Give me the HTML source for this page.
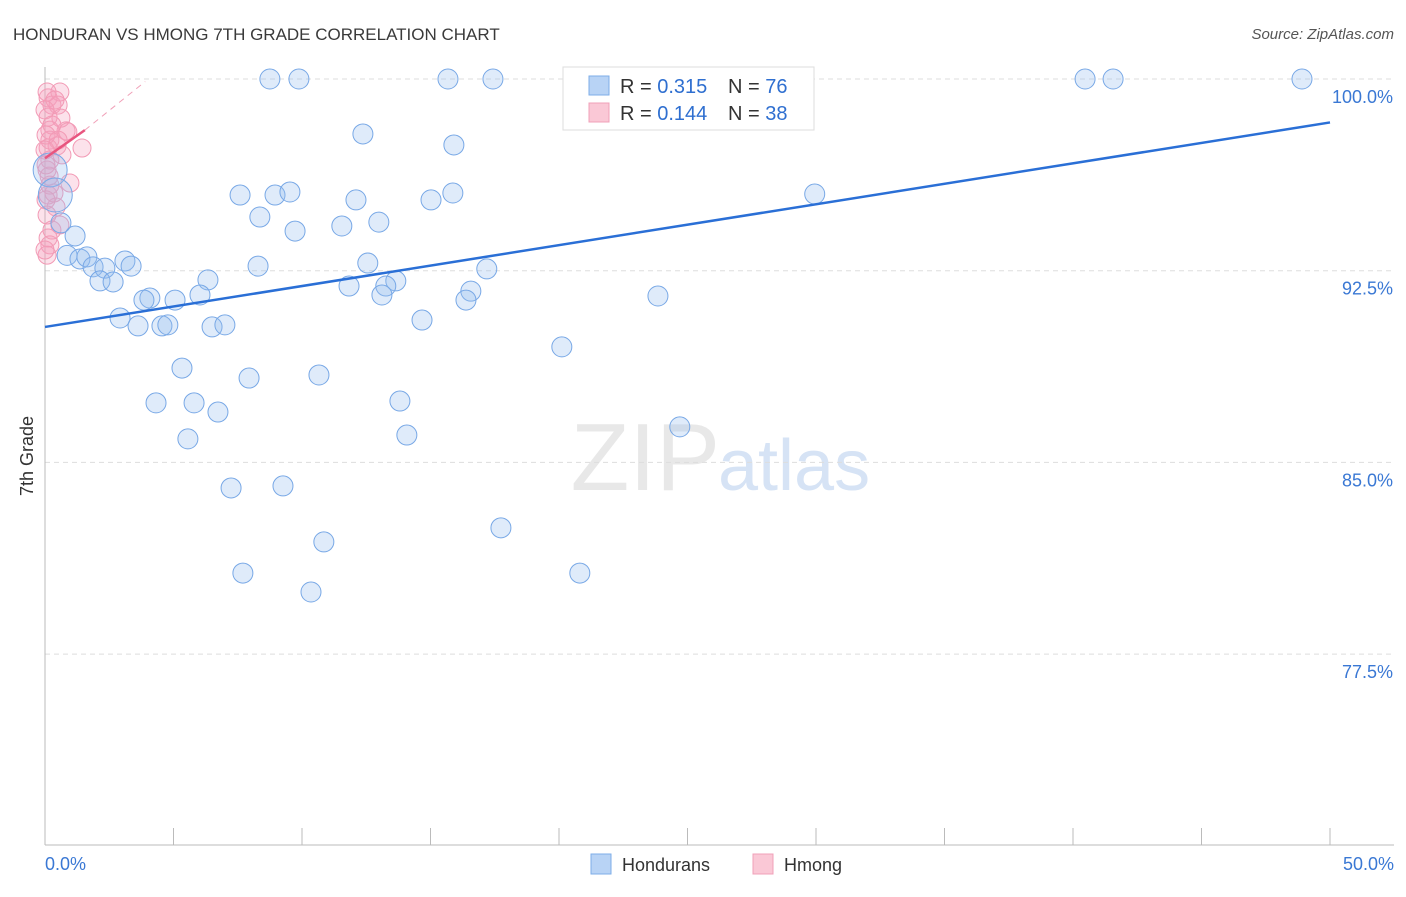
<!DOCTYPE html>
<html><head><meta charset="utf-8">
<style>
body{margin:0;background:#fff;font-family:"Liberation Sans",sans-serif;}
svg text{font-family:"Liberation Sans",sans-serif;}
</style></head>
<body>
<svg id="chart" width="1406" height="892" xmlns="http://www.w3.org/2000/svg">
<text x="13" y="40" font-size="17" fill="#3a3a3a">HONDURAN VS HMONG 7TH GRADE CORRELATION CHART</text>
<text x="1394" y="39" font-size="15" fill="#555" text-anchor="end" font-style="italic">Source: ZipAtlas.com</text>
<text x="720" y="490" font-size="96" fill="#e8e8e8" text-anchor="end" font-family="Liberation Serif">ZIP</text>
<text x="718" y="490" font-size="72" fill="#d6e3f5">atlas</text>
<text transform="translate(33,456) rotate(-90)" font-size="18" fill="#333" text-anchor="middle">7th Grade</text>
<g id="grid"></g>
<g id="axes"></g>
<g id="marks"></g>
<g>
<rect x="563" y="67" width="251" height="63" fill="#fff" stroke="#ddd"/>
<rect x="589" y="76" width="20" height="19" fill="#b8d3f5" stroke="#7eaee8"/>
<text x="620" y="93" font-size="20" fill="#333">R = <tspan fill="#2f6fd0">0.315</tspan></text>
<text x="728" y="93" font-size="20" fill="#333">N = <tspan fill="#2f6fd0">76</tspan></text>
<rect x="589" y="103" width="20" height="19" fill="#fac8d6" stroke="#f0a0b8"/>
<text x="620" y="120" font-size="20" fill="#333">R = <tspan fill="#2f6fd0">0.144</tspan></text>
<text x="728" y="120" font-size="20" fill="#333">N = <tspan fill="#2f6fd0">38</tspan></text>
</g>
<g>
<rect x="591" y="854" width="20" height="20" fill="#b8d3f5" stroke="#7eaee8"/>
<text x="622" y="871" font-size="18" fill="#333">Hondurans</text>
<rect x="753" y="854" width="20" height="20" fill="#fac8d6" stroke="#f0a0b8"/>
<text x="784" y="871" font-size="18" fill="#333">Hmong</text>
</g>
</svg>
<script>
const yTicks=[100,92.5,85,77.5];
const yTickLabels=["100.0%","92.5%","85.0%","77.5%"];
const xTickLabels=["0.0%","50.0%"];
const hondX=[8.75,9.88,15.68,17.43,24.94,28.2,40.47,41.56,48.91,12.37,15.91,7.59,8.95,9.53,12.1,15.02,15.87,29.95,8.36,12.99,9.73,11.55,0.62,1.17,0.86,1.36,1.63,1.87,2.33,3.11,3.35,2.14,2.65,8.29,12.56,6.34,13.65,13.26,11.83,13.11,17.19,16.57,16.38,4.08,3.85,5.06,6.03,23.85,2.92,3.62,4.55,4.78,6.5,7.0,14.67,20.11,5.33,7.94,10.66,4.32,5.8,6.73,13.81,5.56,14.08,24.7,7.24,9.26,17.74,10.85,7.7,20.81,10.35,0.2,0.4];
const hondY=[100,100,100,100,100,100,100,100,100,97.85,97.42,95.46,95.46,95.58,95.27,95.27,95.54,95.5,94.6,94.4,94.05,94.25,94.37,93.86,93.1,92.96,93.04,92.65,92.6,92.88,92.68,92.1,92.06,92.68,92.8,92.14,92.1,91.9,91.9,91.55,92.57,91.7,91.35,91.43,91.35,91.35,91.55,91.51,90.65,90.34,90.34,90.38,90.3,90.38,90.57,89.52,88.69,88.3,88.42,87.33,87.33,86.97,87.4,85.92,86.07,86.39,84.0,84.08,82.44,81.89,80.67,80.67,79.93,96.44,95.46];
const hmongX=[0.58,0.12,0.27,0.51,0.12,0.62,0.19,0.82,0.89,0.19,0.47,0.12,1.44,0.19,0.08,0.16,0.97,0.12,0.35,0.43,0.58,0.12,0.19,0.08,0.08,0.39,0,0.27,0.04,0.51,0,0.66,0.04,0.19,0.04,0.08,0.27,0];
const hmongY=[99.49,99.26,98.98,98.98,98.51,98.47,98.0,97.97,97.93,97.61,97.38,97.3,97.3,96.83,96.44,96.2,95.93,95.46,95.54,94.99,94.29,93.78,93.51,93.11,99.49,99.18,98.79,98.2,97.81,97.61,97.22,97.03,96.64,95.85,95.27,94.68,94.09,93.31];
const hondTrend=[90.3,98.3];
const hmongTrend=[96.9,98.0,99.9];
const X0=45,X1=1330,Y100=79,PXPER=25.56;
function sx(v){return X0+(v/50)*(X1-X0);}
function sy(v){return Y100+(100-v)*PXPER;}
const NS="http://www.w3.org/2000/svg";
function mk(parent,tag,attrs){const e=document.createElementNS(NS,tag);for(const k in attrs)e.setAttribute(k,attrs[k]);document.getElementById(parent).appendChild(e);return e;}
yTicks.forEach((t,i)=>{
 const l=mk('grid','line',{x1:45,x2:1394,y1:sy(t),y2:sy(t),stroke:'#ddd','stroke-dasharray':'5,4'});
 
 
 const tx=mk('axes','text',{x:1393,y:sy(t)+24,'font-size':18,fill:'#3a78d4','text-anchor':'end'});
 tx.textContent=yTickLabels[i];
 
 
});
let ax=mk('axes','line',{x1:45,x2:45,y1:67,y2:845,stroke:'#bbb'});


let bx=mk('axes','line',{x1:45,x2:1394,y1:845,y2:845,stroke:'#bbb'});


for(let i=0;i<=10;i++){const x=sx(i*5);const t=mk('axes','line',{x1:x,x2:x,y1:828,y2:845,stroke:'#bbb'});
 
 }
[[0,'start',45],[50,'end',1394]].forEach((d,i)=>{const t=mk('axes','text',{x:d[2],y:870,'font-size':18,fill:'#3a78d4','text-anchor':d[1]});t.textContent=xTickLabels[i];
 
 });
hmongX.forEach((v,i)=>{const c=mk('marks','circle',{cx:sx(v),cy:sy(hmongY[i]),r:9,fill:'rgba(245,160,190,0.3)',stroke:'#f29ab5','stroke-width':1});
 
 });
hondX.forEach((v,i)=>{const big=i>=73;const c=mk('marks','circle',{cx:sx(v),cy:sy(hondY[i]),r:big?17:10,fill:'rgba(150,190,240,0.3)',stroke:'#78a8e6','stroke-width':1});
 
 });
let tl=mk('marks','line',{x1:sx(0),y1:sy(hondTrend[0]),x2:sx(50),y2:sy(hondTrend[1]),stroke:'#2a6fd6','stroke-width':2.5});


let pd=mk('marks','line',{x1:sx(1.55),y1:sy(hmongTrend[1]),x2:sx(3.9),y2:sy(hmongTrend[2]),stroke:'#f0a0b8','stroke-width':1,'stroke-dasharray':'6,5'});


let pt=mk('marks','line',{x1:sx(0),y1:sy(hmongTrend[0]),x2:sx(1.55),y2:sy(hmongTrend[1]),stroke:'#e8557f','stroke-width':2.5});


</script>
</body></html>
